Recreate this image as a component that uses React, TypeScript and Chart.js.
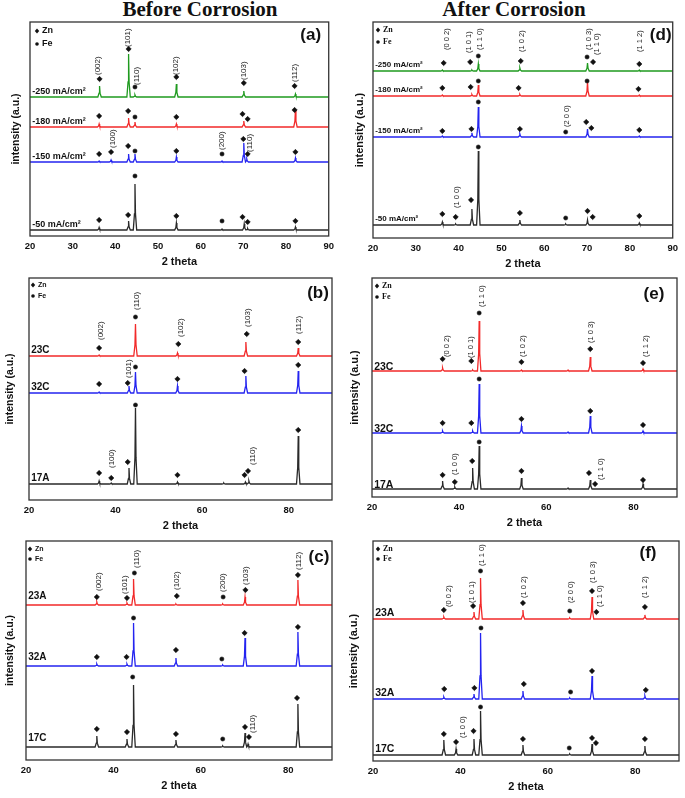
import React, { useEffect, useRef } from 'react';
import { Chart, registerables } from 'chart.js';
Chart.register(...registerables);

const SANS = '"Liberation Sans", Arial, Helvetica, sans-serif';
const SERIF = '"Liberation Serif", "Times New Roman", serif';

type XY = [number, number];
type HKL = [number, number, string];

// ---------- Panel (a): Before corrosion, current density ----------
const A_NAMES = ['-250 mA/cm²', '-180 mA/cm²', '-150 mA/cm²', '-50 mA/cm²'];
const A_OFFSETS = [139, 109, 74, 6];
const A_P_250: XY[] = [[36.3, 11], [43.1, 43], [44.6, 2], [54.3, 13], [70.1, 6], [82.2, 3]];
const A_P_180: XY[] = [[36.2, 3], [43.1, 9], [44.6, 5], [54.3, 3], [70.1, 6], [82.2, 17]];
const A_P_150: XY[] = [[36.2, 1], [39.0, 2], [43.1, 8], [44.6, 8], [54.3, 5], [65.0, 1], [70.1, 19], [70.8, 3], [82.2, 4]];
const A_P_50: XY[] = [[36.2, 2.5], [43.1, 9], [44.6, 46], [54.3, 7], [65.0, 1], [70.2, 6], [71.0, 1.5], [82.2, 3]];
const A_ZN: XY[] = [
  [36.3, 157], [43.1, 187], [54.3, 159], [70.1, 153], [82.0, 150],
  [36.2, 120], [43.0, 125], [54.3, 119], [69.8, 122], [71.0, 117], [82.0, 126],
  [36.2, 82], [39.0, 84], [43.0, 90], [54.3, 85], [70.0, 97], [71.0, 82], [82.2, 84],
  [36.2, 16], [43.0, 21], [54.3, 20], [69.8, 19], [71.0, 14], [82.2, 15],
];
const A_FE: XY[] = [[44.6, 149], [44.6, 119], [44.6, 85], [65.0, 82], [44.6, 60], [65.0, 15]];
const A_HKL: HKL[] = [
  [36.0, 161, '(002)'], [43.0, 189, '(101)'], [45.1, 151, '(110)'], [54.2, 161, '(102)'],
  [70.2, 156, '(103)'], [82.1, 154, '(112)'], [39.3, 88, '(100)'], [64.9, 86, '(200)'], [71.6, 84, '(110)'],
];

// ---------- Panel (d): After corrosion, current density ----------
const D_NAMES = ['-250 mA/cm²', '-180 mA/cm²', '-150 mA/cm²', '-50 mA/cm²'];
const D_OFFSETS = [167, 142, 101, 13];
const D_P_250: XY[] = [[36.2, 1], [43.1, 1], [44.6, 7], [54.3, 3], [70.1, 8], [82.2, 1]];
const D_P_180: XY[] = [[36.2, 1], [43.1, 1.5], [44.6, 11], [54.3, 1.5], [70.1, 14], [82.2, 1]];
const D_P_150: XY[] = [[36.2, 1], [43.1, 4], [44.6, 30], [54.3, 3], [70.1, 8], [82.2, 1]];
const D_P_50: XY[] = [[36.2, 3], [39.3, 1], [43.1, 16], [44.6, 74], [54.3, 5], [65.0, 1], [70.1, 5], [82.2, 2]];
const D_ZN: XY[] = [
  [36.5, 175], [42.7, 176], [54.5, 177], [71.4, 176], [82.2, 174],
  [36.2, 150], [42.8, 151], [54.0, 150], [82.0, 149],
  [36.2, 107], [43.0, 109], [54.3, 109], [69.8, 116], [71.0, 110], [82.2, 108],
  [36.2, 24], [39.3, 21], [42.9, 38], [54.3, 25], [70.1, 27], [71.3, 21], [82.2, 22],
];
const D_FE: XY[] = [[44.6, 182], [70.0, 181], [44.6, 157], [70.0, 157], [44.6, 136], [65.0, 106], [44.6, 91], [65.0, 20]];
const D_HKL: HKL[] = [
  [37.3, 188, '(0 0 2)'], [42.5, 185, '(1 0 1)'], [45.0, 188, '(1 1 0)'], [54.7, 186, '(1 0 2)'],
  [70.5, 188, '(1 0 3)'], [72.2, 183, '(1 1 0)'], [82.3, 186, '(1 1 2)'], [65.4, 111, '(2 0 0)'], [39.7, 30, '(1 0 0)'],
];

// ---------- Panel (b): Before corrosion, samples C ----------
const B_NAMES = ['23C', '32C', '17A'];
const B_OFFSETS = [144, 107, 16];
const B_P_23C: XY[] = [[36.2, 1], [44.6, 32], [54.3, 3], [70.1, 14], [82.2, 8]];
const B_P_32C: XY[] = [[36.2, 1], [43.1, 7], [44.6, 21], [54.3, 7], [70.1, 17], [82.2, 22]];
const B_P_17A: XY[] = [[36.2, 3], [39.0, 1], [43.1, 16], [44.6, 76], [54.3, 2], [65.0, 1], [70.0, 2], [70.8, 3], [82.2, 48]];
const B_ZN: XY[] = [
  [36.2, 152], [54.5, 156], [70.3, 166], [82.2, 158],
  [36.2, 116], [42.8, 117], [54.3, 121], [69.8, 129], [82.2, 135],
  [36.2, 27], [39.0, 22], [42.8, 38], [54.3, 25], [69.8, 25], [70.6, 29], [82.2, 70],
];
const B_FE: XY[] = [[44.6, 183], [44.6, 133], [44.6, 95]];
const B_HKL: HKL[] = [
  [36.5, 160, '(002)'], [44.9, 190, '(110)'], [55.1, 163, '(102)'], [70.6, 173, '(103)'], [82.3, 166, '(112)'],
  [43.0, 122, '(101)'], [39.1, 32, '(100)'], [71.6, 35, '(110)'],
];

// ---------- Panel (e): After corrosion, samples C ----------
const E_NAMES = ['23C', '32C', '17A'];
const E_OFFSETS = [126, 64, 8];
const E_P_23C: XY[] = [[36.2, 3], [43.1, 1], [44.6, 50], [54.3, 1], [65.0, 1], [70.1, 14], [82.2, 2]];
const E_P_32C: XY[] = [[36.2, 2], [43.1, 2], [44.6, 49], [54.3, 7], [65.0, 1], [70.1, 17], [82.2, 2]];
const E_P_17A: XY[] = [[36.2, 8], [39.0, 2], [43.1, 21], [44.6, 43], [54.3, 11], [65.0, 1], [70.1, 9], [82.2, 5]];
const E_ZN: XY[] = [
  [36.2, 138], [42.8, 136], [54.3, 135], [70.1, 148], [82.2, 134],
  [36.2, 74], [42.8, 74], [54.3, 78], [70.1, 86], [82.2, 72],
  [36.2, 22], [39.0, 15], [43.0, 36], [54.3, 26], [69.8, 24], [71.2, 13], [82.2, 17],
];
const E_FE: XY[] = [[44.6, 184], [44.6, 118], [44.6, 55]];
const E_HKL: HKL[] = [
  [37.3, 140, '(0 0 2)'], [42.7, 139, '(1 0 1)'], [45.2, 190, '(1 1 0)'], [54.6, 140, '(1 0 2)'],
  [70.3, 154, '(1 0 3)'], [82.8, 140, '(1 1 2)'], [39.1, 22, '(1 0 0)'], [72.6, 17, '(1 1 0)'],
];

// ---------- Panel (c): Before corrosion, samples A ----------
const C_NAMES = ['23A', '32A', '17C'];
const C_OFFSETS = [155, 94, 13];
const C_P_23A: XY[] = [[36.2, 3], [43.1, 2], [44.6, 26], [54.3, 1], [65.0, 1], [70.1, 8], [82.2, 25]];
const C_P_32A: XY[] = [[36.2, 2], [43.1, 2], [44.6, 43], [54.3, 8], [65.0, 1], [70.1, 28], [82.2, 34]];
const C_P_17C: XY[] = [[36.2, 11], [43.1, 8], [44.6, 62], [54.3, 7], [65.0, 1], [70.1, 14], [70.8, 3], [82.2, 43]];
const C_ZN: XY[] = [
  [36.2, 163], [43.1, 162], [54.5, 164], [70.2, 170], [82.2, 185],
  [36.2, 103], [43.0, 103], [54.3, 110], [70.0, 127], [82.2, 133],
  [36.2, 31], [43.1, 28], [54.3, 26], [70.1, 33], [71.0, 23], [82.0, 62],
];
const C_FE: XY[] = [[44.8, 187], [65.1, 163], [44.6, 142], [64.8, 101], [44.4, 83], [65.0, 21]];
const C_HKL: HKL[] = [
  [36.6, 169, '(002)'], [42.5, 166, '(101)'], [45.4, 192, '(110)'], [54.4, 170, '(102)'],
  [65.1, 168, '(200)'], [70.2, 175, '(103)'], [82.4, 190, '(112)'], [71.9, 27, '(110)'],
];

// ---------- Panel (f): After corrosion, samples A ----------
const F_NAMES = ['23A', '32A', '17C'];
const F_OFFSETS = [142, 62, 6];
const F_P_23A: XY[] = [[36.2, 2], [43.1, 7], [44.6, 41], [54.3, 9], [65.0, 1], [70.1, 22], [82.2, 4]];
const F_P_32A: XY[] = [[36.2, 2], [43.1, 5], [44.6, 66], [54.3, 8], [65.0, 1], [70.1, 23], [82.2, 3]];
const F_P_17C: XY[] = [[36.2, 15], [39.0, 6], [43.1, 16], [44.6, 44], [54.3, 10], [65.0, 1], [70.1, 11], [82.2, 9]];
const F_ZN: XY[] = [
  [36.2, 151], [42.9, 155], [54.3, 158], [70.1, 170], [71.1, 149], [82.2, 154],
  [36.3, 72], [43.2, 73], [54.5, 77], [70.1, 90], [82.4, 71],
  [36.2, 27], [39.0, 19], [43.0, 30], [54.3, 22], [70.1, 23], [71.0, 18], [82.2, 22],
];
const F_FE: XY[] = [[44.6, 190], [65.0, 150], [44.7, 133], [65.2, 69], [44.6, 54], [64.9, 13]];
const F_HKL: HKL[] = [
  [37.3, 154, '(0 0 2)'], [42.7, 158, '(1 0 1)'], [45.0, 195, '(1 1 0)'], [54.5, 163, '(1 0 2)'],
  [65.3, 158, '(2 0 0)'], [70.2, 178, '(1 0 3)'], [71.8, 154, '(1 1 0)'], [82.1, 163, '(1 1 2)'], [40.6, 23, '(1 0 0)'],
];

// Line-shape template for a diffraction peak (relative 2θ offset, fraction of height)
const PEAK_SHAPE: XY[] = [[-0.4, 0], [-0.12, 0.35], [0, 1], [0.12, 0.35], [0.4, 0]];

const GREEN = '#1f9a1f';
const RED = '#f22a2a';
const BLUE = '#2424f0';
const BLACK = '#2a2a2a';

const PAD_T = 6;
const PAD_R = 8;
const X_AXIS_H = 36;

interface PanelDef {
  letter: string;
  box: { L: number; T: number; R: number; B: number };
  colX: number;
  step: number;
  offsets: number[];
  peaks: XY[][];
  names: string[];
  colors: string[];
  zn: XY[];
  fe: XY[];
  hkl: HKL[];
  yTitleX: number;
  yTitleSize: number;
  nameGap: number;
  nameFont: string;
  hklFont: string;
  legendFont: string;
  legendDx: number;
  legendDy: [number, number];
  letterDx: number;
  letterDy: number;
}

const PANELS: PanelDef[] = [
  {
    letter: 'a', box: { L: 30, T: 22, R: 331, B: 236 }, colX: 0, step: 10,
    offsets: A_OFFSETS, peaks: [A_P_250, A_P_180, A_P_150, A_P_50], names: A_NAMES,
    colors: [GREEN, RED, BLUE, BLACK], zn: A_ZN, fe: A_FE, hkl: A_HKL,
    yTitleX: 16, yTitleSize: 10.5, nameGap: 5, nameFont: `bold 9px ${SANS}`, hklFont: `8px ${SANS}`,
    legendFont: `bold 9px ${SANS}`, legendDx: 7, legendDy: [9, 22], letterDx: 18, letterDy: 13,
  },
  {
    letter: 'd', box: { L: 373, T: 22, R: 675, B: 238 }, colX: 342, step: 10,
    offsets: D_OFFSETS, peaks: [D_P_250, D_P_180, D_P_150, D_P_50], names: D_NAMES,
    colors: [GREEN, RED, BLUE, BLACK], zn: D_ZN, fe: D_FE, hkl: D_HKL,
    yTitleX: 360, yTitleSize: 11, nameGap: 6, nameFont: `bold 8px ${SANS}`, hklFont: `7.5px ${SANS}`,
    legendFont: `bold 8px ${SERIF}`, legendDx: 5, legendDy: [8, 20], letterDx: 12, letterDy: 13,
  },
  {
    letter: 'b', box: { L: 29, T: 278, R: 332, B: 500 }, colX: 0, step: 20,
    offsets: B_OFFSETS, peaks: [B_P_23C, B_P_32C, B_P_17A], names: B_NAMES,
    colors: [RED, BLUE, BLACK], zn: B_ZN, fe: B_FE, hkl: B_HKL,
    yTitleX: 10, yTitleSize: 10.5, nameGap: 6, nameFont: `bold 10px ${SANS}`, hklFont: `8px ${SANS}`,
    legendFont: `bold 7px ${SANS}`, legendDx: 4, legendDy: [7, 18], letterDx: 14, letterDy: 15,
  },
  {
    letter: 'e', box: { L: 372, T: 278, R: 677, B: 497 }, colX: 342, step: 20,
    offsets: E_OFFSETS, peaks: [E_P_23C, E_P_32C, E_P_17A], names: E_NAMES,
    colors: [RED, BLUE, BLACK], zn: E_ZN, fe: E_FE, hkl: E_HKL,
    yTitleX: 355, yTitleSize: 11, nameGap: 4, nameFont: `bold 10.5px ${SANS}`, hklFont: `7.5px ${SANS}`,
    legendFont: `bold 8px ${SERIF}`, legendDx: 5, legendDy: [8, 19], letterDx: 23, letterDy: 16,
  },
  {
    letter: 'c', box: { L: 26, T: 541, R: 332, B: 760 }, colX: 0, step: 20,
    offsets: C_OFFSETS, peaks: [C_P_23A, C_P_32A, C_P_17C], names: C_NAMES,
    colors: [RED, BLUE, BLACK], zn: C_ZN, fe: C_FE, hkl: C_HKL,
    yTitleX: 10, yTitleSize: 10.5, nameGap: 9, nameFont: `bold 10px ${SANS}`, hklFont: `8px ${SANS}`,
    legendFont: `bold 7px ${SANS}`, legendDx: 4, legendDy: [8, 18], letterDx: 13, letterDy: 16,
  },
  {
    letter: 'f', box: { L: 373, T: 541, R: 679, B: 761 }, colX: 342, step: 20,
    offsets: F_OFFSETS, peaks: [F_P_23A, F_P_32A, F_P_17C], names: F_NAMES,
    colors: [RED, BLUE, BLACK], zn: F_ZN, fe: F_FE, hkl: F_HKL,
    yTitleX: 354, yTitleSize: 11, nameGap: 6, nameFont: `bold 10.5px ${SANS}`, hklFont: `7.5px ${SANS}`,
    legendFont: `bold 8px ${SERIF}`, legendDx: 5, legendDy: [8, 18], letterDx: 31, letterDy: 12,
  },
];

function pattern(offset: number, peaks: XY[]) {
  const pts: { x: number; y: number }[] = [{ x: 20, y: offset }];
  for (const [p, h] of peaks) {
    for (const [dx, f] of PEAK_SHAPE) pts.push({ x: p + dx, y: offset + h * f });
  }
  pts.push({ x: 90, y: offset });
  return pts;
}

function diamond(ctx: CanvasRenderingContext2D, x: number, y: number, r: number) {
  ctx.beginPath();
  ctx.moveTo(x - r * 0.85, y);
  ctx.lineTo(x, y - r);
  ctx.lineTo(x + r * 0.85, y);
  ctx.lineTo(x, y + r);
  ctx.closePath();
  ctx.fill();
}

function makeDecor(p: PanelDef) {
  return {
    id: 'decor_' + p.letter,
    afterDatasetsDraw(chart: any) {
      const { ctx, chartArea: a, scales } = chart;
      const x = scales.x;
      const y = scales.y;
      ctx.save();
      // frame
      ctx.strokeStyle = '#333';
      ctx.lineWidth = 1.3;
      ctx.strokeRect(a.left, a.top, a.right - a.left, a.bottom - a.top);
      // hkl labels, rotated
      ctx.fillStyle = '#222';
      ctx.font = p.hklFont;
      ctx.textAlign = 'left';
      ctx.textBaseline = 'middle';
      for (const [tx, ty, s] of p.hkl) {
        ctx.save();
        ctx.translate(x.getPixelForValue(tx), y.getPixelForValue(ty));
        ctx.rotate(-Math.PI / 2);
        ctx.fillText(s, 0, 0);
        ctx.restore();
      }
      // trace names
      ctx.font = p.nameFont;
      ctx.fillStyle = '#111';
      p.names.forEach((n, i) => {
        ctx.fillText(n, x.getPixelForValue(20.5), y.getPixelForValue(p.offsets[i]) - p.nameGap);
      });
      // legend
      const lx = a.left + p.legendDx;
      ctx.fillStyle = '#111';
      diamond(ctx, lx, a.top + p.legendDy[0], 2.6);
      ctx.beginPath();
      ctx.arc(lx, a.top + p.legendDy[1], 1.8, 0, Math.PI * 2);
      ctx.fill();
      ctx.font = p.legendFont;
      ctx.fillText('Zn', lx + 5, a.top + p.legendDy[0]);
      ctx.fillText('Fe', lx + 5, a.top + p.legendDy[1]);
      // panel letter
      ctx.font = `bold 17px ${SANS}`;
      ctx.textAlign = 'center';
      ctx.fillStyle = '#111';
      ctx.fillText('(' + p.letter + ')', a.right - p.letterDx, a.top + p.letterDy);
      ctx.restore();
    },
  };
}

function buildConfig(p: PanelDef): any {
  const { L, T, B } = p.box;
  const H = B - T;
  const datasets: any[] = [
    {
      data: p.zn.map(([x, y]) => ({ x, y })),
      pointStyle: 'rectRot', pointRadius: 2.7, backgroundColor: '#111', borderColor: '#111', borderWidth: 0.5,
      showLine: false,
    },
    {
      data: p.fe.map(([x, y]) => ({ x, y })),
      pointStyle: 'circle', pointRadius: 2.1, backgroundColor: '#111', borderColor: '#111', borderWidth: 0.5,
      showLine: false,
    },
    ...p.peaks.map((pk, i) => ({
      data: pattern(p.offsets[i], pk),
      showLine: true, pointRadius: 0, borderColor: p.colors[i], borderWidth: 1.3, tension: 0, fill: false,
    })),
  ];
  const yLh = p.yTitleSize * 1.2;
  return {
    type: 'scatter',
    data: { datasets },
    options: {
      responsive: false,
      animation: false,
      events: [],
      layout: { padding: { left: 0, top: PAD_T, right: PAD_R, bottom: 0 } },
      plugins: { legend: { display: false }, tooltip: { enabled: false } },
      scales: {
        x: {
          type: 'linear', min: 20, max: 90,
          grid: { display: false, drawTicks: false },
          border: { display: false },
          ticks: {
            stepSize: p.step, includeBounds: p.step === 10, autoSkip: false, maxRotation: 0,
            font: { family: SANS, size: 9.5, weight: 'bold' }, color: '#111', padding: 5,
          },
          title: {
            display: true, text: '2 theta', color: '#111',
            font: { family: SANS, size: 11, weight: 'bold' }, padding: { top: 0, bottom: 3.4 },
          },
          afterFit: (s: any) => { s.height = X_AXIS_H; },
        },
        y: {
          type: 'linear', min: 0, max: H,
          grid: { display: false, drawTicks: false },
          border: { display: false },
          ticks: { display: false },
          title: {
            display: true, text: 'intensity (a.u.)', color: '#111',
            font: { family: SANS, size: p.yTitleSize, weight: 'bold' },
            padding: { top: p.yTitleX - p.colX - yLh / 2, bottom: 0 },
          },
          afterFit: (s: any) => { s.width = L - p.colX; },
        },
      },
    },
    plugins: [makeDecor(p)],
  };
}

function Panel({ def }: { def: PanelDef }) {
  const ref = useRef<HTMLCanvasElement>(null);
  const { T, R, B } = def.box;
  const w = R + PAD_R - def.colX;
  const h = B + X_AXIS_H - (T - PAD_T);
  useEffect(() => {
    const chart = new Chart(ref.current as HTMLCanvasElement, buildConfig(def));
    return () => chart.destroy();
  }, [def]);
  return (
    <canvas
      ref={ref}
      width={w}
      height={h}
      style={{ position: 'absolute', left: def.colX, top: T - PAD_T, width: w, height: h }}
    />
  );
}

const titleStyle = (cx: number): React.CSSProperties => ({
  position: 'absolute', left: cx - 150, width: 300, top: -2, textAlign: 'center',
  fontFamily: SERIF, fontWeight: 'bold', fontSize: 21, lineHeight: '22px', color: '#111',
});

export default function App() {
  return (
    <div style={{ position: 'absolute', left: 0, top: 0, width: 685, height: 798, overflow: 'hidden', background: '#fff' }}>
      <div style={titleStyle(200)}>Before Corrosion</div>
      <div style={titleStyle(514)}>After Corrosion</div>
      {PANELS.map((p) => (
        <Panel key={p.letter} def={p} />
      ))}
    </div>
  );
}
